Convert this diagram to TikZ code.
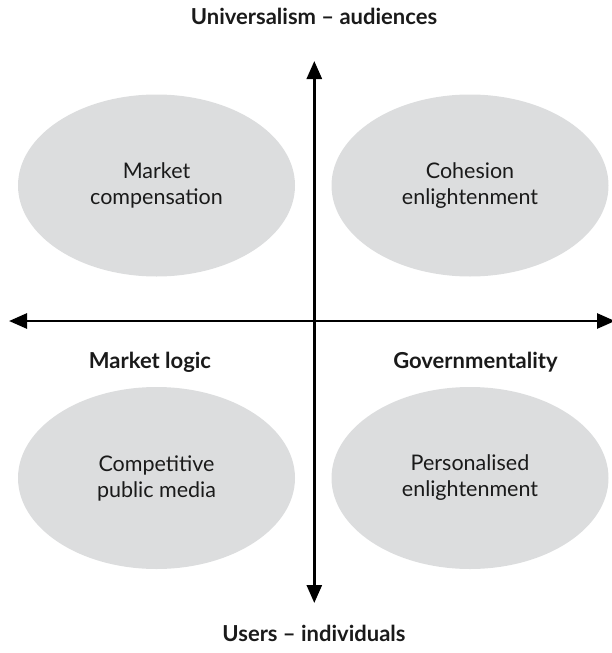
\documentclass[tikz,border=0pt]{standalone}
\usepackage{fontspec}
\setmainfont{Lato}
\usetikzlibrary{arrows.meta,shapes.geometric}
\definecolor{ellgray}{HTML}{DCDDDE}
\definecolor{txt}{HTML}{1A1A1A}
\begin{document}
\begin{tikzpicture}[x=1pt,y=-1pt,
  blob/.style={ellipse,fill=ellgray,minimum width=277pt,minimum height=182pt,align=center,text=txt,font=\fontsize{21.5}{26}\selectfont,inner sep=0pt},
  axislabel/.style={font=\bfseries\fontsize{22}{26}\selectfont,text=txt,inner sep=0pt,anchor=base},
  axis/.style={line width=2.8pt,-{Triangle[length=18pt,width=15pt]}}]
\useasboundingbox (0,0) rectangle (612,653);
\node[blob] (mc) at (156.5,185.5) {Market\\compensation};
\node[blob] (ce) at (470,185.5) {Cohesion\\enlightenment};
\node[blob] (cp) at (156.5,478) {Competitive\\public media};
\node[blob] (pe) at (470,478) {Personalised\\enlightenment};
\coordinate (c) at (314.3,321);
\coordinate (top) at (314.3,61);
\coordinate (bot) at (314.3,603);
\coordinate (left) at (9,321);
\coordinate (right) at (615,321);
\draw[axis] (c) -- (top);
\draw[axis] (c) -- (bot);
\draw[axis] (c) -- (left);
\draw[axis] (c) -- (right);
\node[axislabel] (u) at (314,24) {Universalism – audiences};
\node[axislabel] (ui) at (314,641) {Users – individuals};
\node[axislabel] (ml) at (150,368) {Market logic};
\node[axislabel] (g) at (475.5,368) {Governmentality};
\end{tikzpicture}
\end{document}
